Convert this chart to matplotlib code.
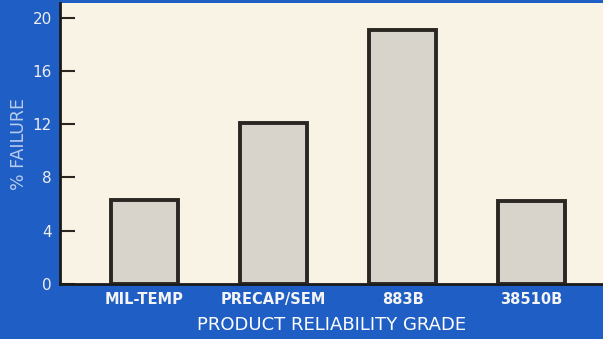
import matplotlib.pyplot as plt

grades = ["MIL-TEMP", "PRECAP/SEM", "883B", "38510B"]
failure_pct = [6.3, 12.1, 19.1, 6.2]
yticks = [0, 4, 8, 12, 16, 20]

blue = "#1f5ec4"
cream = "#f8f3e4"

fig = plt.figure(figsize=(6.03, 3.39), dpi=100, facecolor=blue)
ax = fig.add_axes([60 / 603, 1 - 284 / 339, 543 / 603, 281 / 339])
ax.set_facecolor(cream)

x = list(range(len(grades)))
ax.bar(x, failure_pct, width=0.52, color="#d9d4cb", edgecolor="#2a2622", linewidth=2.8, zorder=3)

ax.set_xlim(-0.655, 3.554)
ax.set_ylim(0, 21.1)
ax.set_yticks(yticks)
ax.set_xticks(x)
ax.set_xticklabels(grades, family=["Liberation Sans Narrow", "DejaVu Sans"],
                   fontweight="bold", fontsize=10.5, color="#f4f4f4")
ax.tick_params(axis="x", length=0, pad=6)
ax.tick_params(axis="y", direction="in", length=11, width=1.5, color="#2a2622",
               labelcolor="#eeeeee", labelsize=11, pad=6)

for side in ["top", "right"]:
    ax.spines[side].set_visible(False)
for side in ["left", "bottom"]:
    ax.spines[side].set_linewidth(2.0)
    ax.spines[side].set_color("#1a1a1a")

ax.set_xlabel("PRODUCT RELIABILITY GRADE", color="white", fontsize=13, labelpad=6)
ax.set_ylabel("% FAILURE", color="#b8ccee", fontsize=12.5, labelpad=3)

fig.savefig("out.png", dpi=100, facecolor=blue)
